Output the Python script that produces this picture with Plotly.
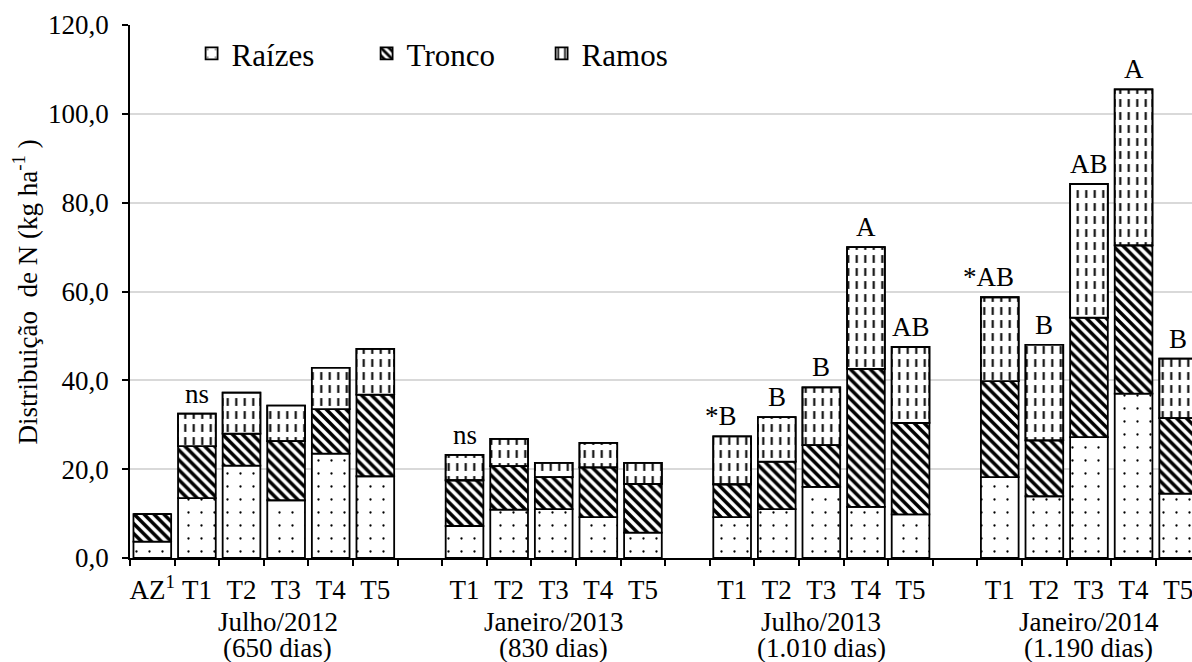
import plotly.graph_objects as go

# ---------------- data ----------------
group_line1 = ["Julho/2012", "Janeiro/2013", "Julho/2013", "Janeiro/2014"]
group_line2 = ["(650 dias)", "(830 dias)", "(1.010 dias)", "(1.190 dias)"]
group_treatments = [
    ["AZ<sup>1</sup>", "T1", "T2", "T3", "T4", "T5"],
    ["T1", "T2", "T3", "T4", "T5"],
    ["T1", "T2", "T3", "T4", "T5"],
    ["T1", "T2", "T3", "T4", "T5"],
]
raizes = [3.7, 13.5, 20.8, 13.0, 23.5, 18.4,
          7.2, 10.9, 11.0, 9.2, 5.7,
          9.2, 11.0, 16.0, 11.5, 9.8,
          18.2, 13.9, 27.2, 37.0, 14.5]
tronco = [6.2, 11.7, 7.2, 13.3, 10.0, 18.4,
          10.3, 9.8, 7.2, 11.2, 11.0,
          7.4, 10.7, 9.4, 31.1, 20.6,
          21.6, 12.6, 26.9, 33.4, 17.0]
ramos = [0.0, 7.3, 9.2, 8.0, 9.3, 10.3,
         5.7, 6.1, 3.2, 5.5, 4.7,
         10.8, 10.0, 13.0, 27.4, 17.1,
         18.9, 21.5, 30.1, 35.1, 13.4]
letters = ["", "ns", "", "", "", "",
           "ns", "", "", "", "",
           "*B", "B", "B", "A", "AB",
           "*AB", "B", "AB", "A", "B"]
y_ticks = [0, 20, 40, 60, 80, 100, 120]

# ---------------- positions (categorical slots with a blank slot between groups) ----
xs, tick_text, group_centers = [], [], []
pos = 0
for g in group_treatments:
    start = pos
    for t in g:
        xs.append(pos)
        tick_text.append(t)
        pos += 1
    group_centers.append((start + pos - 1) / 2)
    pos += 1
n_slots = pos - 1

base_tronco = list(raizes)
base_ramos = [a + b for a, b in zip(raizes, tronco)]
totals = [a + b + c for a, b, c in zip(raizes, tronco, ramos)]

FONT = "Liberation Serif"
BW = 0.845
LINE = dict(color="black", width=1.8)

fig = go.Figure()
fig.add_trace(go.Bar(
    x=xs, y=raizes, base=[0] * len(xs), width=BW, name="Raízes",
    marker=dict(color="white", line=LINE,
                pattern=dict(shape=".", size=13, solidity=0.025, fgcolor="black",
                             bgcolor="white", fillmode="replace")),
))
fig.add_trace(go.Bar(
    x=xs, y=tronco, base=base_tronco, width=BW, name="Tronco",
    marker=dict(color="white", line=LINE,
                pattern=dict(shape="\\", size=7, solidity=0.5, fgcolor="black",
                             bgcolor="white", fillmode="replace")),
))
fig.add_trace(go.Bar(
    x=xs, y=ramos, base=base_ramos, width=BW, name="Ramos",
    marker=dict(color="white", line=LINE,
                pattern=dict(shape="|", size=8.5, solidity=0.24, fgcolor="black",
                             bgcolor="white", fillmode="replace")),
))
# white horizontal breaks to turn the vertical lines into dashes
fig.add_trace(go.Bar(
    x=xs, y=ramos, base=base_ramos, width=BW, showlegend=False, hoverinfo="skip",
    marker=dict(color="rgba(0,0,0,0)", line=dict(width=0),
                pattern=dict(shape="-", size=13, solidity=0.4, fgcolor="white",
                             bgcolor="rgba(0,0,0,0)", fillmode="replace")),
))
# outline redraw
fig.add_trace(go.Bar(
    x=xs, y=ramos, base=base_ramos, width=BW, showlegend=False, hoverinfo="skip",
    marker=dict(color="rgba(0,0,0,0)", line=LINE),
))

# letters above bars
for x, tot, lab in zip(xs, totals, letters):
    if lab:
        fig.add_annotation(x=x, y=tot, text=lab, showarrow=False, yanchor="bottom",
                           xanchor="center", xshift=-11 if lab.startswith("*") else 0,
                           yshift=3, font=dict(family=FONT, size=27, color="black"))

# group labels
for i, (c, l1, l2) in enumerate(zip(group_centers, group_line1, group_line2)):
    xshift = 14 if i == 0 else 0
    fig.add_annotation(x=c, y=-0.120, xref="x", yref="paper", text=l1, showarrow=False,
                       yanchor="middle", xshift=xshift, borderpad=0,
                       font=dict(family=FONT, size=27, color="black"))
    fig.add_annotation(x=c, y=-0.168, xref="x", yref="paper", text=l2, showarrow=False,
                       yanchor="middle", xshift=xshift, borderpad=0,
                       font=dict(family=FONT, size=27, color="black"))

# y-axis title
fig.add_annotation(x=-0.0989, y=0.5, xref="paper", yref="paper",
                   text="Distribuição  de N (kg ha<sup>-1</sup> )", textangle=-90,
                   showarrow=False, xanchor="center", yanchor="middle",
                   font=dict(family=FONT, size=27, color="black"))

fig.update_layout(
    width=1192, height=662,
    margin=dict(l=130, r=0, t=25, b=104),
    paper_bgcolor="white", plot_bgcolor="white",
    barmode="overlay", separators=",.",
    font=dict(family=FONT, size=27, color="black"),
    legend=dict(orientation="h", x=0.058, y=0.946, xanchor="left", yanchor="middle",
                font=dict(family=FONT, size=31, color="black"),
                bgcolor="rgba(0,0,0,0)", entrywidth=130, entrywidthmode="pixels",
                traceorder="normal"),
    showlegend=True,
)
fig.update_xaxes(
    range=[-0.5, 23.31], tickmode="array", tickvals=xs, ticktext=tick_text,
    ticks="", ticklabelstandoff=7, ticklabeloverflow="allow",
    showline=True, linecolor="black", linewidth=1.5, showgrid=False, zeroline=False,
    tickfont=dict(family=FONT, size=27, color="black"),
    minor=dict(tickmode="array", tickvals=[i - 0.5 for i in range(n_slots + 1)],
               ticks="outside", ticklen=6, tickcolor="black", tickwidth=1.5, showgrid=False),
)
fig.update_yaxes(
    range=[0, 120], tickmode="array", tickvals=y_ticks, tickformat=".1f",
    ticks="outside", ticklen=6, tickcolor="black", tickwidth=1.5, ticklabelstandoff=8,
    showline=True, linecolor="black", linewidth=1.5,
    showgrid=True, gridcolor="#d9d9d9", gridwidth=1.5, zeroline=False,
    tickfont=dict(family=FONT, size=27, color="black"),
)

fig.write_html("out.html", config={"displayModeBar": False},
               post_script="document.body.style.margin='0px';")
